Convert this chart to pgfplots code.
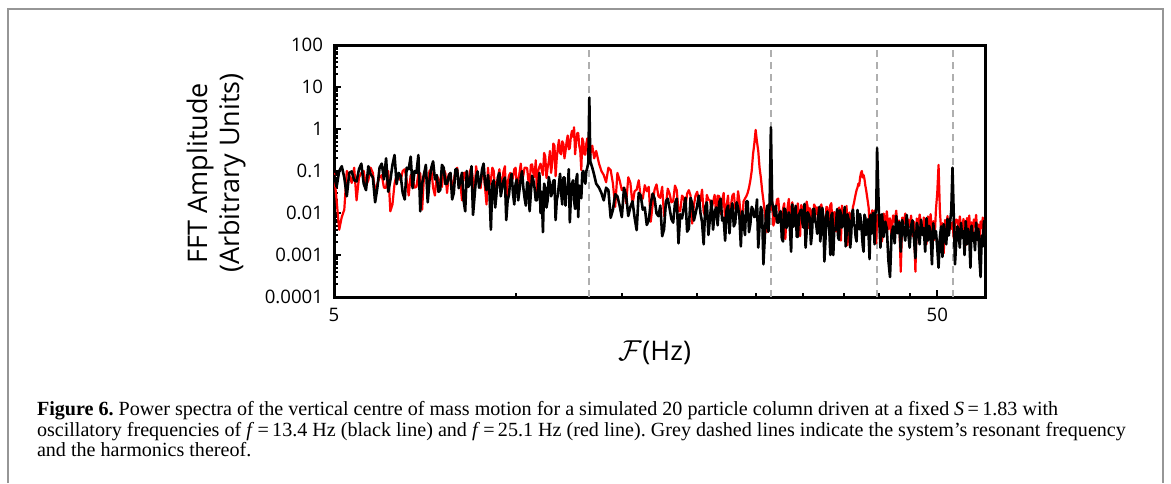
\documentclass[border=0pt]{standalone}
\usepackage{pgfplots}
\pgfplotsset{compat=1.18}
\usepackage{pgfplotstable}
\usepackage{fontspec}
\setmainfont{Liberation Serif}
\newfontfamily\osans{Open Sans}

\pgfplotstableread{
x b r
5.0 0.08 0.09
5.05 0.042 0.02
5.1 0.10 0.004
5.15 0.13 0.008
5.2 0.07 0.012
5.25 0.025 0.10
5.3 0.09 0.08
5.35 0.098 0.052
5.4 0.06 0.12
5.45 0.056 0.02
5.5 0.11 0.07
5.55 0.15 0.09
5.6 0.05 0.10
5.65 0.035 0.045
5.7 0.13 0.06
5.75 0.084 0.12
5.8 0.07 0.09
5.85 0.018 0.03
5.9 0.04 0.05
5.95 0.12 0.07
6.0 0.15 0.08
6.05 0.063 0.04
6.1 0.20 0.04
6.15 0.032 0.10
6.2 0.06 0.011
6.25 0.14 0.016
6.3 0.24 0.05
6.35 0.049 0.08
6.4 0.09 0.07
6.45 0.077 0.06
6.5 0.03 0.10
6.55 0.021 0.11
6.6 0.12 0.06
6.65 0.11 0.026
6.7 0.22 0.08
6.75 0.039 0.065
6.8 0.10 0.04
6.85 0.091 0.042
6.9 0.24 0.09
6.95 0.011 0.088
7.0 0.05 0.012
7.05 0.084 0.078
7.1 0.14 0.07
7.15 0.018 0.059
7.2 0.06 0.10
7.25 0.12 0.11
7.3 0.17 0.04
7.35 0.063 0.026
7.4 0.08 0.08
7.45 0.032 0.065
7.5 0.035 0.05
7.55 0.14 0.042
7.6 0.12 0.11
7.65 0.049 0.088
7.7 0.05 0.03
7.75 0.077 0.085
7.8 0.09 0.08
7.85 0.021 0.033
7.9 0.03 0.06
7.95 0.11 0.10
8.0 0.11 0.12
8.05 0.039 0.052
8.1 0.06 0.05
8.15 0.091 0.02
8.2 0.02 0.09
8.25 0.011 0.091
8.3 0.10 0.04
8.35 0.042 0.046
8.4 0.05 0.10
8.45 0.13 0.12
8.5 0.009 0.06
8.55 0.025 0.029
8.6 0.07 0.13
8.65 0.098 0.072
8.7 0.04 0.05
8.75 0.056 0.039
8.8 0.11 0.09
8.85 0.15 0.098
8.9 0.05 0.04
8.95 0.035 0.016
9.0 0.08 0.12
9.05 0.032 0.046
9.1 0.004 0.06
9.15 0.05 0.12
9.2 0.06 0.10
9.25 0.0135 0.029
9.3 0.03 0.05
9.35 0.072 0.072
9.4 0.09 0.11
9.45 0.025 0.039
9.5 0.04 0.06
9.55 0.059 0.098
9.6 0.07 0.13
9.65 0.0068 0.016
9.7 0.02 0.05
9.75 0.027 0.078
9.8 0.06 0.09
9.85 0.086 0.059
9.9 0.03 0.07
9.95 0.016 0.11
10.0 0.05 0.12
10.05 0.063 0.036
10.1 0.02 0.06
10.15 0.036 0.09
10.2 0.07 0.15
10.25 0.099 0.059
10.3 0.04 0.08
10.35 0.0225 0.12
10.4 0.015 0.12
10.45 0.054 0.117
10.5 0.05 0.06
10.55 0.011 0.045
10.6 0.03 0.14
10.65 0.077 0.144
10.7 0.06 0.09
10.75 0.04 0.072
10.8 0.02 0.18
10.85 0.02 0.027
10.9 0.04 0.10
10.95 0.09 0.126
11.0 0.01 0.15
11.05 0.032 0.105
11.1 0.0035 0.08
11.15 0.05 0.27
11.2 0.04 0.22
11.25 0.0135 0.068
11.3 0.02 0.12
11.35 0.072 0.165
11.4 0.05 0.30
11.45 0.025 0.09
11.5 0.03 0.15
11.55 0.059 0.45
11.6 0.06 0.40
11.65 0.0068 0.075
11.7 0.02 0.20
11.75 0.027 0.36
11.8 0.05 0.55
11.85 0.086 0.27
11.9 0.03 0.25
11.95 0.016 0.51
12.0 0.07 0.45
12.05 0.07 0.2
12.1 0.015 0.30
12.15 0.04 0.5
12.2 0.04 0.70
12.25 0.11 0.33
12.3 0.006 0.35
12.35 0.025 0.68
12.4 0.05 0.90
12.45 0.06 0.65
12.5 0.02 1.10
12.55 0.0125 0.25
12.6 0.06 0.50
12.65 0.085 0.8
12.7 0.008 0.80
12.75 0.045 0.4
12.8 0.04 0.30
12.85 0.0225 0.105
12.9 0.09 0.60
12.95 0.1 0.49
13.0 0.06 0.25
13.05 0.05 0.245
13.1 0.10 0.45
13.15 0.12 0.6
13.2 0.16 0.30
13.25 5.6 0.35
13.3 0.17 0.25
13.4 0.12 0.40
13.5 0.08 0.20
13.6 0.05 0.30
13.75 0.04 0.15
13.875 0.03 0.1
14.0 0.02 0.08
14.125 0.04 0.054
14.25 0.035 0.12
14.375 0.0077 0.105
14.5 0.012 0.05
14.625 0.028 0.014
14.75 0.025 0.09
14.875 0.015 0.06
15.0 0.008 0.035
15.125 0.04 0.04
15.25 0.026 0.017
15.375 0.0085 0.071
15.5 0.014 0.052
15.625 0.019 0.016
15.75 0.0078 0.033
15.875 0.0039 0.036
16.0 0.03 0.06
16.125 0.026 0.023
16.25 0.012 0.022
16.375 0.0135 0.046
16.5 0.0052 0.033
16.625 0.0066 0.042
16.75 0.017 0.0062
16.875 0.029 0.016
17.0 0.022 0.036
17.125 0.0098 0.048
17.25 0.0084 0.025
17.375 0.015 0.023
17.5 0.0028 0.042
17.625 0.0041 0.0084
17.75 0.019 0.015
17.875 0.022 0.038
18.0 0.013 0.029
18.125 0.0072 0.018
18.25 0.0059 0.019
18.375 0.017 0.045
18.5 0.022 0.035
18.625 0.0019 0.011
18.75 0.0094 0.011
18.875 0.0074 0.026
19.0 0.013 0.023
19.125 0.023 0.014
19.25 0.0036 0.029
19.375 0.0042 0.035
19.5 0.023 0.026
19.625 0.017 0.0056
19.75 0.0066 0.015
19.875 0.0096 0.026
20.0 0.015 0.032
20.125 0.026 0.019
20.25 0.010 0.019
20.375 0.006 0.036
20.5 0.0018 0.0105
20.625 0.014 0.0084
20.75 0.018 0.027
20.875 0.003 0.021
21.0 0.0075 0.02
21.125 0.0195 0.013
21.25 0.004 0.018
21.375 0.0103 0.027
21.5 0.0136 0.0098
21.625 0.0051 0.026
21.75 0.018 0.025
21.875 0.022 0.0095
22.0 0.0066 0.019
22.125 0.0077 0.03
22.25 0.0022 0.0056
22.375 0.012 0.015
22.5 0.015 0.026
22.625 0.0033 0.0057
22.75 0.0107 0.015
22.875 0.017 0.026
23.0 0.0048 0.029
23.125 0.0058 0.013
23.25 0.018 0.011
23.375 0.0135 0.033
23.5 0.0079 0.019
23.625 0.0016 0.0079
23.75 0.011 0.007
23.875 0.0061 0.019
24.0 0.003 0.022
24.125 0.019 0.025
24.25 0.019 0.03
24.375 0.0035 0.04
24.5 0.0055 0.06
24.625 0.014 0.1
24.75 0.012 0.25
24.875 0.008 0.45
25.0 0.0084 0.95
25.125 0.021 0.5
25.25 0.0015 0.30
25.375 0.0048 0.12
25.5 0.014 0.07
25.625 0.011 0.035
25.75 0.0006 0.02
25.875 0.0023 0.011
26.0 0.009 0.006
26.125 0.015 0.0035
26.25 0.0036 0.016
26.375 0.02 0.014
26.5 1.1 0.012
26.625 0.018 0.019
26.75 0.012 0.005
26.875 0.0085 0.0065
27.0 0.015 0.012
27.125 0.006 0.021
27.25 0.0059 0.022
27.375 0.0094 0.0104
27.5 0.011 0.0082
27.625 0.0025 0.0039
27.75 0.0021 0.0125
27.875 0.0128 0.017
28.0 0.012 0.0024
28.125 0.0044 0.0084
28.25 0.0072 0.014
28.375 0.0104 0.0216
28.5 0.004 0.01
28.625 0.0012 0.0054
28.75 0.016 0.018
28.875 0.0047 0.0129
29.0 0.0062 0.0063
29.125 0.0148 0.007
29.25 0.0027 0.0125
29.375 0.0027 0.017
29.5 0.0091 0.0084
29.625 0.0106 0.0028
29.75 0.012 0.0155
29.875 0.006 0.0132
30.0 0.0045 0.005
30.125 0.0165 0.0099
30.25 0.0015 0.011
30.375 0.0037 0.0187
30.5 0.0104 0.0136
30.625 0.009 0.0044
30.75 0.0074 0.013
30.875 0.0018 0.011
31.0 0.0033 0.0076
31.125 0.0124 0.0068
31.25 0.0125 0.016
31.375 0.0065 0.0142
31.5 0.0054 0.0095
31.625 0.0032 0.0136
31.75 0.0078 0.0052
31.875 0.014 0.005
32.0 0.0021 0.013
32.125 0.0049 0.016
32.25 0.0133 0.01
32.375 0.0077 0.008
32.5 0.0007 0.003
32.625 0.0021 0.003
32.75 0.0087 0.014
32.875 0.0109 0.0136
33.0 0.0058 0.0078
33.125 0.0037 0.0068
33.25 0.001 0.0155
33.375 0.0087 0.0172
33.5 0.01 0.0058
33.625 0.001 0.0043
33.75 0.0043 0.0105
33.875 0.0039 0.0101
34.0 0.0065 0.0036
34.125 0.0124 0.0054
34.25 0.0026 0.0117
34.375 0.0023 0.0135
34.5 0.0116 0.0081
34.625 0.0091 0.0022
34.75 0.0045 0.015
34.875 0.0052 0.0106
35.0 0.0082 0.0057
35.125 0.0139 0.0078
35.25 0.0016 0.0087
35.375 0.0031 0.0148
35.5 0.0093 0.0017
35.625 0.0074 0.0035
35.75 0.0055 0.0103
35.875 0.0015 0.0086
36.0 0.003 0.0072
36.125 0.0102 0.009
36.25 0.012 0.014
36.375 0.0054 0.017
36.5 0.0048 0.022
36.625 0.0027 0.028
36.75 0.0021 0.035
36.875 0.0118 0.04
37.0 0.0071 0.05
37.125 0.0041 0.045
37.25 0.0094 0.07
37.375 0.0064 0.09
37.5 0.0035 0.10
37.625 0.0017 0.07
37.75 0.0012 0.08
37.875 0.0091 0.065
38.0 0.0077 0.045
38.125 0.003 0.035
38.25 0.0055 0.025
38.375 0.0071 0.018
38.5 0.0025 0.013
38.625 0.0008 0.0035
38.75 0.009 0.0055
38.875 0.0032 0.0086
39.0 0.004 0.0116
39.125 0.01 0.0046
39.25 0.0057 0.0069
39.375 0.0018 0.0114
39.5 0.01 0.0038
39.625 0.013 0.0019
39.75 0.35 0.009
40.0 0.012 0.0091
40.25 0.0015 0.007
40.5 0.0094 0.0021
40.75 0.0027 0.0097
41.0 0.0062 0.0055
41.25 0.0042 0.011
41.5 0.00074 0.0041
41.75 0.0003 0.0075
42.0 0.0031 0.0027
42.25 0.0048 0.0088
42.5 0.0019 0.0061
42.75 0.0085 0.0114
43.0 0.0033 0.0043
43.25 0.0061 0.0066
43.5 0.0012 0.0004
43.75 0.0068 0.0078
44.0 0.004 0.0055
44.25 0.0022 0.0097
44.5 0.009 0.0035
44.75 0.0035 0.007
45.0 0.0015 0.0047
45.25 0.005 0.0087
45.5 0.0067 0.0028
45.75 0.0025 0.0062
46.0 0.00084 0.0004
46.25 0.0058 0.0074
46.5 0.0041 0.0043
46.75 0.0018 0.0092
47.0 0.0069 0.0055
47.25 0.003 0.003
47.5 0.0044 0.0078
47.75 0.0012 0.006
48.0 0.0075 0.0018
48.25 0.0022 0.0083
48.5 0.0049 0.0047
48.75 0.0033 0.0094
49.0 0.0006 0.0035
49.25 0.0057 0.0064
49.5 0.0025 0.0023
49.75 0.0037 0.012
50.0 0.0015 0.03
50.25 0.0005 0.14
50.5 0.0026 0.012
50.75 0.0048 0.0037
51.0 0.0009 0.0057
51.25 0.0054 0.0011
51.5 0.0032 0.0068
51.75 0.0018 0.0048
52.0 0.0072 0.0085
52.25 0.0029 0.0031
52.5 0.006 0.0062
52.75 0.011 0.0042
53.0 0.12 0.006
53.25 0.009 0.0025
53.5 0.0006 0.0056
53.75 0.002 0.007
54.0 0.0048 0.0066
54.25 0.0034 0.0039
54.5 0.0015 0.0083
54.75 0.0058 0.005
55.0 0.0026 0.0028
55.25 0.0037 0.0072
55.5 0.001 0.0055
55.75 0.0064 0.0017
56.0 0.0018 0.0076
56.25 0.0042 0.0043
56.5 0.0028 0.0087
56.75 0.0005 0.0032
57.0 0.005 0.006
57.25 0.0022 0.0022
57.5 0.0033 0.007
57.75 0.0013 0.0048
58.0 0.0059 0.009
58.25 0.0023 0.0034
58.5 0.0042 0.0053
58.75 0.0008 0.0011
59.0 0.0003 0.0063
59.25 0.0029 0.0044
59.5 0.0016 0.0078
59.75 0.0064 0.0029
60.0 0.0026 0.0057
}\spec

\definecolor{dashgrey}{RGB}{175,175,175}
\definecolor{framegrey}{RGB}{150,150,150}

\begin{document}
\frenchspacing
\begin{tikzpicture}
\useasboundingbox (0,0) rectangle (585.5pt,241.5pt);
\draw[framegrey, line width=1pt] (4pt,0) -- (4pt,237pt) -- (581.5pt,237pt) -- (581.5pt,0);
\begin{axis}[
  at={(167pt,93pt)}, anchor=south west,
  scale only axis, width=325.5pt, height=126pt,
  xmode=log, ymode=log,
  xmin=5, xmax=60, ymin=0.0001, ymax=100,
  xtick={5,50}, xticklabels={5,50},
  minor xtick={10,15,20,25,30,35,40,45},
  ytick={0.0001,0.001,0.01,0.1,1,10,100},
  yticklabels={0.0001,0.001,0.01,0.1,1,10,100},
  minor ytick={0.0002,0.0003,0.0004,0.0005,0.0006,0.0007,0.0008,0.0009,
    0.002,0.003,0.004,0.005,0.006,0.007,0.008,0.009,
    0.02,0.03,0.04,0.05,0.06,0.07,0.08,0.09,
    0.2,0.3,0.4,0.5,0.6,0.7,0.8,0.9,
    2,3,4,5,6,7,8,9,20,30,40,50,60,70,80,90},
  tick align=inside, tick pos=left,
  axis line style={line width=1.5pt},
  major tick length=3.5pt, minor tick length=2pt,
  every tick/.style={black, line width=1pt},
  tick label style={font=\osans\fontsize{9.3}{11}\selectfont, black},
  xticklabel style={yshift=-2pt},
  yticklabel style={xshift=-2pt},
  xlabel={$\mathcal{F}$(Hz)},
  ylabel={FFT Amplitude\\(Arbitrary Units)},
  xlabel style={at={(axis description cs:0.493,-0.222)}, anchor=center,
    font=\osans\fontsize{13.5}{16}\selectfont},
  ylabel style={at={(axis description cs:-0.181,0.492)}, anchor=center,
    align=center, font=\osans\fontsize{13.5}{16}\selectfont},
]
\addplot[dashgrey, line width=1pt, dash pattern=on 3.5pt off 2.5pt] coordinates {(13.25,0.0001) (13.25,100)};
\addplot[dashgrey, line width=1pt, dash pattern=on 3.5pt off 2.5pt] coordinates {(26.5,0.0001) (26.5,100)};
\addplot[dashgrey, line width=1pt, dash pattern=on 3.5pt off 2.5pt] coordinates {(39.75,0.0001) (39.75,100)};
\addplot[dashgrey, line width=1pt, dash pattern=on 3.5pt off 2.5pt] coordinates {(53,0.0001) (53,100)};
\addplot[red, line width=1.1pt, line join=round] table[x=x, y=r] {\spec};
\addplot[black, line width=1.3pt, line join=round] table[x=x, y=b] {\spec};
\end{axis}
\node[anchor=base west, inner sep=0pt, font=\fontsize{10.05}{11}\selectfont] at (18.3pt,33.75pt)
  {\textbf{Figure 6.} Power spectra of the vertical centre of mass motion for a simulated 20 particle column driven at a fixed \textit{S}\,=\,1.83 with};
\node[anchor=base west, inner sep=0pt, font=\fontsize{10.05}{11}\selectfont] at (18.3pt,23.4pt)
  {oscillatory frequencies of \textit{f}\,=\,13.4 Hz (black line) and \textit{f}\,=\,25.1 Hz (red line). Grey dashed lines indicate the system’s resonant frequency};
\node[anchor=base west, inner sep=0pt, font=\fontsize{10.05}{11}\selectfont] at (18.3pt,13.05pt)
  {and the harmonics thereof.};
\end{tikzpicture}
\end{document}
